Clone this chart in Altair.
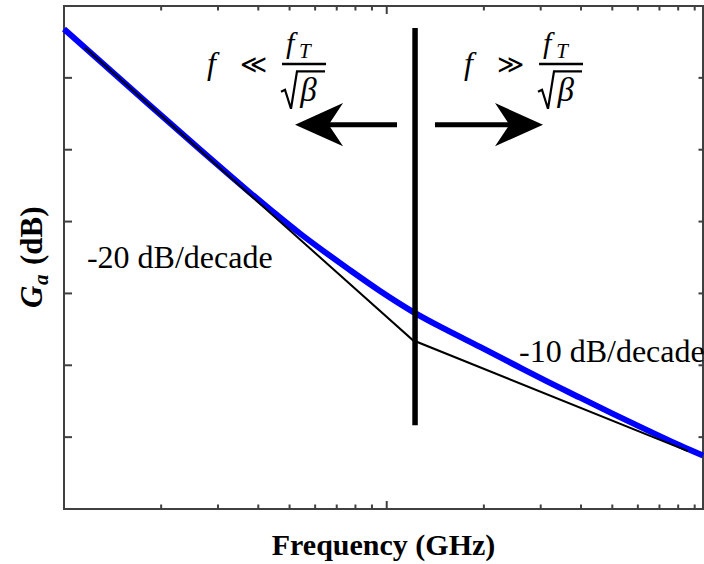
import altair as alt
import pandas as pd

# ---------------- data ----------------
# exact available gain curve (blue)
blue_freq = [1.0, 1.847, 2.639, 3.268, 3.771, 4.443, 5.386, 6.531, 7.694, 9.532,
             12.06, 15.16, 19.46, 24.98, 31.38, 39.72, 50.27, 64.09, 81.1, 95.5]
blue_gain = [33.40, 28.08, 25.01, 23.20, 22.01, 20.68, 19.17, 17.77, 16.62, 15.17,
             13.72, 12.51, 11.28, 10.02, 8.88, 7.75, 6.62, 5.49, 4.42, 3.72]

# asymptotes (black): -20 dB/decade then -10 dB/decade
asym_freq = [1.162, 12.06, 85.8]
asym_gain = [32.10, 11.74, 4.03]

# boundary f = fT/sqrt(beta)
boundary_freq = [12.24]
boundary_g1 = [5.83]
boundary_g2 = [33.47]

# arrows
shaft_f1 = [10.76, 14.11]
shaft_f2 = [6.58, 24.1]
shaft_g = [26.74, 26.74]
head_f = [6.17, 25.7]
head_g = [26.74, 26.74]

# axis tick values
x_minor = [2, 3, 4, 5, 6, 7, 8, 9, 20, 30, 40, 50, 60, 70, 80, 90]
x_major = [10]
y_ticks = [5, 10, 15, 20, 25, 30]

# slope labels
slope_text = ["-20 dB/decade", "-10 dB/decade"]
slope_f = [1.178, 25.7]
slope_g = [16.74, 10.21]

# math annotation pieces
ital_text = ["f", "f", "f", "f", "β", "β"]
ital_f = [2.774, 17.36, 4.875, 30.5, 5.40, 33.8]
ital_g = [30.28, 30.28, 31.74, 31.74, 28.40, 28.40]
ital_size = [32, 32, 30, 30, 33, 33]

sub_text = ["T", "T"]
sub_f = [5.35, 33.5]
sub_g = [31.40, 31.40]

rel_text = ["≪", "≫"]
rel_f = [3.511, 21.97]
rel_g = [30.35, 30.35]

# radical sign with its vinculum (stroke through these points)
rad_group = ["l", "l", "l", "l", "l", "r", "r", "r", "r", "r"]
rad_f = [4.704, 4.839, 5.051, 5.272, 6.44, 29.43, 30.28, 31.60, 32.99, 40.29]
rad_g = [29.03, 29.17, 27.85, 30.45, 30.45, 29.03, 29.17, 27.85, 30.45, 30.45]

bar_f1 = [4.738, 29.65]
bar_f2 = [6.485, 40.57]
bar_g = [30.97, 30.97]

# ---------------- scales ----------------
xs = alt.Scale(type="log", domain=[1, 95.5], nice=False)
ys = alt.Scale(domain=[0, 35], nice=False, zero=False)


def X(field):
    return alt.X(f"{field}:Q", scale=xs, axis=None)


def Y(field):
    return alt.Y(f"{field}:Q", scale=ys, axis=None)


SERIF = "Liberation Serif, Times New Roman, serif"
AXC = "#404040"

blue = alt.Chart(pd.DataFrame({"f": blue_freq, "g": blue_gain})).mark_line(
    color="#0000ff", strokeWidth=6, interpolate="monotone"
).encode(x=X("f"), y=Y("g"))

asym = alt.Chart(pd.DataFrame({"f": asym_freq, "g": asym_gain})).mark_line(
    color="black", strokeWidth=2
).encode(x=X("f"), y=Y("g"))

boundary = alt.Chart(pd.DataFrame({"f": boundary_freq, "g1": boundary_g1, "g2": boundary_g2})).mark_rule(
    color="black", strokeWidth=5.5
).encode(x=X("f"), y=Y("g1"), y2=alt.Y2("g2:Q"))

shafts = alt.Chart(pd.DataFrame({"f1": shaft_f1, "f2": shaft_f2, "g": shaft_g})).mark_rule(
    color="black", strokeWidth=5
).encode(x=X("f1"), x2=alt.X2("f2:Q"), y=Y("g"))

left_head = alt.Chart(pd.DataFrame({"f": head_f[:1], "g": head_g[:1]})).mark_point(
    shape="M -1 0 L 1 -0.9 L 0.4 0 L 1 0.9 Z", filled=True, size=2304,
    color="black", opacity=1, strokeWidth=0
).encode(x=X("f"), y=Y("g"))

right_head = alt.Chart(pd.DataFrame({"f": head_f[1:], "g": head_g[1:]})).mark_point(
    shape="M 1 0 L -1 -0.9 L -0.4 0 L -1 0.9 Z", filled=True, size=2304,
    color="black", opacity=1, strokeWidth=0
).encode(x=X("f"), y=Y("g"))

# ticks (inward, mirrored on all sides)
dfxm = pd.DataFrame({"v": x_minor})
dfxM = pd.DataFrame({"v": x_major})
dfy = pd.DataFrame({"v": y_ticks})
tick = dict(color=AXC, strokeWidth=2)
ticks = [
    alt.Chart(dfxm).mark_rule(**tick).encode(x=X("v"), y=alt.value(503), y2=alt.value(498.5)),
    alt.Chart(dfxM).mark_rule(**tick).encode(x=X("v"), y=alt.value(503), y2=alt.value(495)),
    alt.Chart(dfxm).mark_rule(**tick).encode(x=X("v"), y=alt.value(0), y2=alt.value(4.5)),
    alt.Chart(dfxM).mark_rule(**tick).encode(x=X("v"), y=alt.value(0), y2=alt.value(8)),
    alt.Chart(dfy).mark_rule(**tick).encode(y=Y("v"), x=alt.value(0), x2=alt.value(8)),
    alt.Chart(dfy).mark_rule(**tick).encode(y=Y("v"), x=alt.value(639), x2=alt.value(634.5)),
]

slopes = alt.Chart(pd.DataFrame({"t": slope_text, "f": slope_f, "g": slope_g})).mark_text(
    font=SERIF, fontSize=32, align="left", baseline="alphabetic", color="black"
).encode(x=X("f"), y=Y("g"), text="t:N")

ital = alt.Chart(pd.DataFrame({"t": ital_text, "f": ital_f, "g": ital_g, "s": ital_size})).mark_text(
    font=SERIF, fontStyle="italic", align="left", baseline="alphabetic", color="black"
).encode(x=X("f"), y=Y("g"), text="t:N", size=alt.Size("s:Q", scale=None, legend=None))

subs = alt.Chart(pd.DataFrame({"t": sub_text, "f": sub_f, "g": sub_g})).mark_text(
    font=SERIF, fontStyle="italic", fontSize=21, align="left", baseline="alphabetic", color="black"
).encode(x=X("f"), y=Y("g"), text="t:N")

rels = alt.Chart(pd.DataFrame({"t": rel_text, "f": rel_f, "g": rel_g})).mark_text(
    font="DejaVu Serif", fontSize=26, align="left", baseline="alphabetic", color="black"
).encode(x=X("f"), y=Y("g"), text="t:N")

rads = alt.Chart(pd.DataFrame({"grp": rad_group, "f": rad_f, "g": rad_g,
                               "o": list(range(len(rad_f)))})).mark_line(
    color="black", strokeWidth=2.2, strokeJoin="miter"
).encode(x=X("f"), y=Y("g"), detail="grp:N", order="o:Q")

bars = alt.Chart(pd.DataFrame({"f1": bar_f1, "f2": bar_f2, "g": bar_g})).mark_rule(
    color="black", strokeWidth=2.5
).encode(x=X("f1"), x2=alt.X2("f2:Q"), y=Y("g"))

# axis titles
xtitle = alt.Chart(pd.DataFrame({"t": ["Frequency (GHz)"]})).mark_text(
    font=SERIF, fontSize=30, fontWeight="bold", align="center", baseline="alphabetic", color="black"
).encode(x=alt.value(319.5), y=alt.value(549), text="t:N")

yt_G = alt.Chart(pd.DataFrame({"t": ["G"]})).mark_text(
    font=SERIF, fontSize=31, fontWeight="bold", fontStyle="italic", angle=270,
    align="left", baseline="alphabetic", color="black"
).encode(x=alt.value(-22), y=alt.value(302), text="t:N")
yt_a = alt.Chart(pd.DataFrame({"t": ["a"]})).mark_text(
    font=SERIF, fontSize=21, fontWeight="bold", fontStyle="italic", angle=270,
    align="left", baseline="alphabetic", color="black"
).encode(x=alt.value(-16), y=alt.value(279), text="t:N")
yt_db = alt.Chart(pd.DataFrame({"t": ["(dB)"]})).mark_text(
    font=SERIF, fontSize=31, fontWeight="bold", angle=270,
    align="left", baseline="alphabetic", color="black"
).encode(x=alt.value(-22), y=alt.value(259), text="t:N")

chart = alt.layer(
    blue, asym, boundary, shafts, left_head, right_head, *ticks,
    slopes, ital, subs, rels, rads, bars, xtitle, yt_G, yt_a, yt_db
).properties(
    width=639, height=503,
    autosize=alt.AutoSizeParams(type="none"),
    padding={"left": 64, "top": 6, "right": 1, "bottom": 55},
    background="white",
).configure_view(stroke=AXC, strokeWidth=2)

chart.save("out.html", embed_options={"renderer": "svg", "actions": False})
